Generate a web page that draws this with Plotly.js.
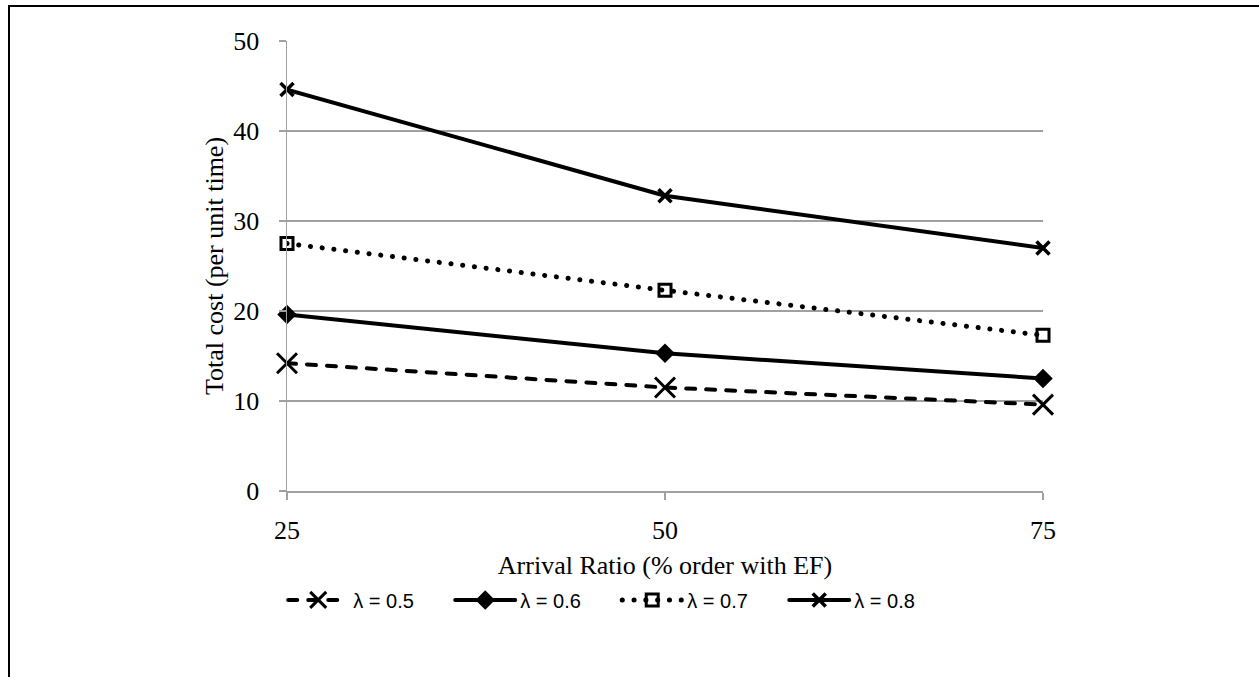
<!DOCTYPE html>
<html>
<head>
<meta charset="utf-8">
<script src="https://cdn.plot.ly/plotly-3.0.1.min.js"></script>
<style>
  html, body { margin: 0; padding: 0; background: #fff; }
  #wrap { position: relative; width: 1259px; height: 677px; overflow: hidden; }
  #chart { position: absolute; left: 0; top: 0; width: 1259px; height: 677px; }
  #frame { position: absolute; left: 8px; top: 5px; width: 1260px; height: 700px;
           border-left: 2px solid #000; border-top: 2px solid #000; pointer-events: none; }
  .scatterlayer .js-line, .legend .js-line { stroke-linecap: round; }
</style>
</head>
<body>
<div id="wrap">
  <div id="chart"></div>
  <div id="frame"></div>
</div>
<script>
// Data
const arrivalRatio = [25, 50, 75];
const seriesNames = ['λ = 0.5', 'λ = 0.6', 'λ = 0.7', 'λ = 0.8'];
const lambda05 = [14.2, 11.5, 9.6];
const lambda06 = [19.6, 15.3, 12.5];
const lambda07 = [27.5, 22.3, 17.3];
const lambda08 = [44.6, 32.8, 27.0];
const yTicks = [0, 10, 20, 30, 40, 50];

const traces = [
  { x: arrivalRatio, y: lambda05, name: seriesNames[0], mode: 'lines+markers', cliponaxis: false,
    line: { color: '#000', width: 4, dash: '9px,11px' },
    marker: { symbol: 'x-thin-open', size: 20, color: '#000', line: { color: '#000', width: 3 } } },
  { x: arrivalRatio, y: lambda06, name: seriesNames[1], mode: 'lines+markers', cliponaxis: false,
    line: { color: '#000', width: 4 },
    marker: { symbol: 'diamond', size: 15, color: '#000' } },
  { x: arrivalRatio, y: lambda07, name: seriesNames[2], mode: 'lines+markers', cliponaxis: false,
    line: { color: '#000', width: 5, dash: '0.1px,11.7px' },
    marker: { symbol: 'square-open', size: 12, color: '#000', line: { color: '#000', width: 3 } } },
  { x: arrivalRatio, y: lambda08, name: seriesNames[3], mode: 'lines+markers', cliponaxis: false,
    line: { color: '#000', width: 4 },
    marker: { symbol: 'x-thin-open', size: 13, color: '#000', line: { color: '#000', width: 3.5 } } }
];

const serif = 'Liberation Serif, Times New Roman, serif';
const layout = {
  width: 1259, height: 677,
  margin: { l: 287, r: 216, t: 41, b: 186 },
  paper_bgcolor: '#fff', plot_bgcolor: '#fff',
  showlegend: true,
  xaxis: {
    range: [25, 75], tickvals: arrivalRatio, ticktext: arrivalRatio.map(String),
    showgrid: false, zeroline: false,
    showline: true, linecolor: '#a0a0a0', linewidth: 1.5,
    ticks: 'outside', ticklen: 7, tickwidth: 1.5, tickcolor: '#a0a0a0',
    tickfont: { family: serif, size: 26, color: '#000' },
    ticklabelstandoff: 8,
    automargin: true,
    title: { text: 'Arrival Ratio (% order with EF)', font: { family: serif, size: 26, color: '#000' }, standoff: 12 }
  },
  yaxis: {
    range: [0, 50], tickvals: yTicks, ticktext: yTicks.map(String),
    showgrid: true, gridcolor: '#a0a0a0', gridwidth: 1.5, zeroline: false,
    showline: true, linecolor: '#a0a0a0', linewidth: 1.5,
    ticks: 'outside', ticklen: 7, tickwidth: 1.5, tickcolor: '#a0a0a0',
    tickfont: { family: serif, size: 26, color: '#000' },
    ticklabelstandoff: 14,
    automargin: true,
    title: { text: 'Total cost (per unit time)', font: { family: serif, size: 26, color: '#000' }, standoff: 2 }
  },
  legend: {
    orientation: 'h', x: -0.005, xanchor: 'left', y: -0.242, yanchor: 'middle',
    itemwidth: 60,
    entrywidth: 92, entrywidthmode: 'pixels',
    font: { family: 'Liberation Sans, Arial, sans-serif', size: 20, color: '#000' },
    bgcolor: 'rgba(0,0,0,0)', itemclick: false, traceorder: 'normal'
  }
};

Plotly.newPlot('chart', traces, layout, { displayModeBar: false, staticPlot: true });
</script>
</body>
</html>
